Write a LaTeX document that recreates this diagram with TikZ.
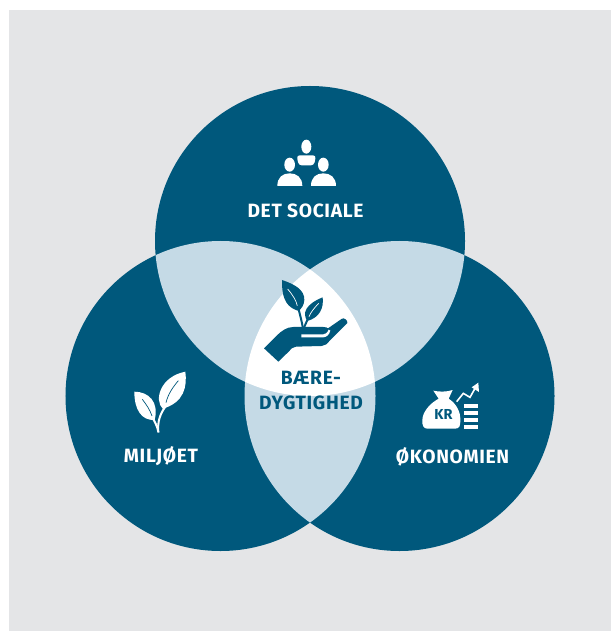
\documentclass[tikz,border=0pt]{standalone}
\usepackage{fontspec}
\setmainfont{Fira Sans}
\newfontfamily\labfont[LetterSpace=3.5]{Fira Sans}
\definecolor{bgc}{HTML}{E4E5E7}
\definecolor{darkc}{HTML}{00587C}
\definecolor{lightc}{HTML}{C5DAE6}
\tikzset{
  labeltext/.style={font=\labfont\bfseries\fontsize{19.3}{23}\selectfont,inner sep=0pt,text=white,anchor=center},
  icon/.style={x=0.3333bp,y=-0.3333bp},
}
\begin{document}
\begin{tikzpicture}[x=1bp,y=-1bp]
\useasboundingbox (0,0) rectangle (611,631);
\fill[bgc] (9,10) rectangle (611,631);
\coordinate (T) at (310,241);
\coordinate (L) at (220.5,396);
\coordinate (R) at (399.5,396);
\def\rad{155bp}
\fill[darkc] (T) circle[radius=\rad];
\fill[darkc] (L) circle[radius=\rad];
\fill[darkc] (R) circle[radius=\rad];
\begin{scope}
  \clip (T) circle[radius=\rad];
  \fill[lightc] (L) circle[radius=\rad];
  \fill[lightc] (R) circle[radius=\rad];
\end{scope}
\begin{scope}
  \clip (L) circle[radius=\rad];
  \fill[lightc] (R) circle[radius=\rad];
\end{scope}
\begin{scope}
  \clip (T) circle[radius=\rad];
  \clip (L) circle[radius=\rad];
  \fill[white] (R) circle[radius=\rad];
\end{scope}

% people
\begin{scope}[shift={(240,120)},icon]
  \fill[white] (199,80) ellipse[x radius=15,y radius=21];
  \fill[white] (149,134) ellipse[x radius=16,y radius=21];
  \fill[white] (250,134) ellipse[x radius=16,y radius=21];
  \fill[white,rounded corners=3bp] (170,106) -- (228,106) -- (222,136) -- (176,136) -- cycle;
  \fill[white] (112,198) .. controls (112,172) and (128,160) .. (149,160) .. controls (170,160) and (187,172) .. (187,198) -- cycle;
  \fill[white] (213,198) .. controls (213,172) and (229,160) .. (250,160) .. controls (271,160) and (288,172) .. (288,198) -- cycle;
\end{scope}

% plant in hand
\begin{scope}[shift={(240,265)},icon]
  \fill[darkc] (126,45) .. controls (165,58) and (194,75) .. (193,105) .. controls (192,122) and (184,130) .. (176,138) .. controls (145,128) and (125,110) .. (126,45) -- cycle;
  \draw[white,line width=0.7bp] (143,72) .. controls (158,90) and (168,105) .. (172,122);
  \fill[darkc] (248,97) .. controls (252,130) and (238,158) .. (202,168) .. controls (186,145) and (196,118) .. (248,97) -- cycle;
  \draw[white,line width=0.7bp] (236,115) .. controls (222,130) and (212,142) .. (207,155);
  \draw[darkc,line width=2bp] (174,125) .. controls (180,150) and (186,170) .. (189,192);
  \draw[darkc,line width=2bp] (203,163) -- (191,190);
  \fill[darkc] (72,250) -- (112,210) .. controls (125,198) and (140,186) .. (160,186) -- (250,186) .. controls (258,186) and (262,188) .. (264,190) -- (306,161) .. controls (312,157) and (324,166) .. (322,174) -- (270,226) .. controls (262,236) and (255,243) .. (245,243) -- (168,245) .. controls (158,246) and (152,252) .. (146,260) -- (115,290) -- cycle;
  \fill[white] (184,208) -- (250,208) .. controls (256,208) and (262,204) .. (266,194) -- (271,197) .. controls (268,210) and (258,217) .. (250,217) -- (184,217) -- cycle;
\end{scope}

% leaves
\begin{scope}[shift={(110,360)},icon]
  \fill[white] (226,35) .. controls (232,80) and (222,128) .. (158,146) .. controls (132,120) and (150,50) .. (226,35) -- cycle;
  \draw[darkc,line width=0.7bp] (205,62) .. controls (190,80) and (175,100) .. (168,128);
  \fill[white] (73,95) .. controls (115,95) and (148,125) .. (134,180) .. controls (95,182) and (73,150) .. (73,95) -- cycle;
  \draw[darkc,line width=0.7bp] (97,118) .. controls (110,135) and (120,150) .. (126,168);
  \draw[white,line width=2bp] (170,135) .. controls (150,160) and (142,185) .. (145,218);
  \draw[white,line width=2bp] (125,170) .. controls (135,185) and (142,200) .. (145,215);
\end{scope}

% money bag
\begin{scope}[shift={(390,370)},icon]
  \fill[white] (130,62) .. controls (145,66) and (172,66) .. (188,60) -- (176,86) .. controls (198,100) and (212,125) .. (211,150) .. controls (211,166) and (210,176) .. (195,176) -- (112,176) .. controls (100,176) and (96,165) .. (97,150) .. controls (98,125) and (120,100) .. (146,86) -- cycle;
  \draw[white,line width=1.6bp] (200,95) -- (220,70) -- (240,82) -- (258,50);
  \fill[white] (265,38) -- (267,66) -- (245,52) -- cycle;
  \foreach \yy in {102,124,144,164}
    \fill[white] (222,\yy) rectangle (264,\yy+12);
\end{scope}
\node[inner sep=0pt,text=darkc,font=\bfseries\fontsize{14.5}{16}\selectfont] (kr) at (443.5,414.5) {KR};

\node[labeltext] (soc) at (305.5,211) {DET SOCIALE};
\node[labeltext] (mil) at (161,456.5) {MILJØET};
\node[labeltext] (oko) at (452.5,456.5) {ØKONOMIEN};
\node[labeltext,text=darkc] (bae) at (311,378) {BÆRE-};
\node[labeltext,text=darkc] (dyg) at (311,402.5) {DYGTIGHED};
\end{tikzpicture}
\end{document}
